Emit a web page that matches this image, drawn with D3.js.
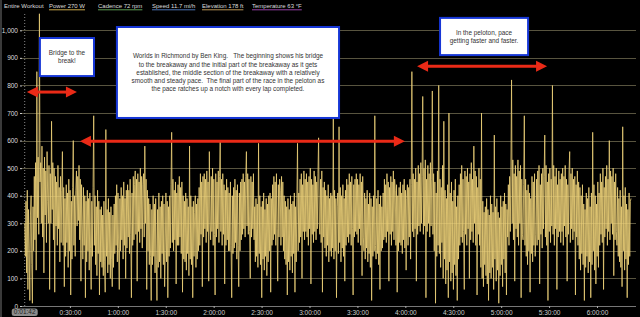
<!DOCTYPE html>
<html>
<head>
<meta charset="utf-8">
<script src="https://cdn.jsdelivr.net/npm/d3@7"></script>
<style>
  body { margin: 0; background: #000; }
  svg { display: block; font-family: "Liberation Sans", Arial, sans-serif; }
</style>
</head>
<body>
<div id="chart"></div>
<script>
// power trace, one reading every 24 s starting at 0:01:42
let startSec = 102
let stepSec = 24
let power = [
  300,180,380,120,420,60,350,210,20,330, 400,150,10,360,200,470,240,520,130,850,
  320,540,260,1060,450,520,300,580,250,500, 120,540,330,490,230,560,380,300,510,60,
  480,300,670,350,520,240,500,50,470,290, 450,220,510,280,430,160,470,230,420,560,
  220,430,70,390,180,440,230,410,140,460, 200,420,40,380,170,430,600,220,400,180,
  420,490,290,470,310,510,240,460,90,440, 300,170,430,220,400,30,380,160,420,200,
  390,130,410,210,60,380,180,430,690,220, 400,150,360,110,420,190,380,40,350,160,
  360,140,330,110,380,160,50,640,180,350, 120,390,150,340,100,360,170,70,330,140,
  370,190,400,220,440,160,410,210,60,390, 200,430,240,400,170,450,220,390,100,420,
  210,440,250,420,190,460,260,30,410,220, 470,240,440,490,260,460,90,480,270,450,
  230,500,280,470,210,440,480,250,580,300, 460,60,420,200,390,150,370,180,20,350,
  150,400,180,370,120,390,170,20,350,140, 410,160,360,100,380,190,400,150,370,70,
  200,410,160,380,30,360,180,400,210,440, 630,230,460,200,420,240,450,80,410,220,
  440,220,470,250,430,190,450,50,400,170, 380,160,410,130,390,190,360,110,580,170,
  400,150,360,30,380,180,340,400,140,370, 170,390,200,430,220,480,260,450,70,470,
  250,480,280,460,230,490,270,450,90,560, 300,240,470,270,500,220,460,260,40,480,
  250,450,280,490,230,470,600,270,460,220, 480,260,440,80,420,220,460,240,430,200,
  410,200,450,220,30,400,190,430,210,460, 230,420,170,440,220,70,410,200,450,240,
  460,260,480,280,450,250,470,560,290,480, 260,460,270,100,470,250,450,280,480,240,
  360,160,390,180,370,140,590,190,400,150, 360,30,380,170,410,130,350,180,390,110,
  370,160,400,200,410,50,390,220,440,240, 470,260,450,220,480,280,90,440,250,460,
  420,220,470,250,450,200,400,170,380,150, 360,40,390,160,350,130,400,180,370,120,
  380,190,410,50,360,160,390,590,200,410, 230,460,250,480,100,440,270,490,240,460,
  270,480,250,450,220,470,280,500,80,460, 260,440,230,490,270,470,240,450,280,480,
  610,300,260,460,230,490,50,430,250,450, 210,420,180,400,220,440,160,390,200,410,
  180,400,210,700,170,420,200,390,30,360, 410,190,650,230,430,160,400,210,440,180,
  390,90,420,220,460,250,440,230,480,260, 450,220,470,280,40,440,250,460,270,480,
  260,460,230,440,280,480,220,450,110,470, 250,200,410,170,390,210,420,160,370,190,
  410,140,390,20,360,180,400,200,690,220, 170,390,190,420,150,370,60,400,200,360,
  210,410,240,460,250,440,230,480,270,450, 90,430,260,470,220,450,270,490,240,460,
  420,220,440,50,400,200,430,230,450,220, 410,190,440,240,460,210,420,130,390,440,
  220,430,250,460,170,440,850,270,480,250, 460,280,500,90,450,260,510,290,480,270,
  520,300,470,760,260,500,290,530,30,460, 270,510,300,480,250,520,290,460,780,260,
  480,200,450,10,410,180,490,220,800,190, 460,140,430,230,510,100,670,170,420,80,
  390,130,440,30,700,160,410,90,450,120, 380,60,420,150,460,110,360,20,400,170,
  440,220,480,250,510,230,460,270,60,490, 260,470,220,500,280,450,100,480,240,520,
  270,460,230,580,300,490,220,470,40,430, 260,500,220,460,140,700,100,380,70,340,
  150,360,110,390,80,350,20,330,120,400, 100,370,140,340,60,620,170,360,90,390,
  130,340,10,320,110,400,150,360,70,380, 170,410,120,370,40,350,250,440,220,470,
  270,500,820,300,530,240,480,90,510,280, 470,250,530,220,490,300,510,30,460,260,
  240,440,690,220,460,180,420,150,440,200, 410,50,390,190,470,160,450,220,480,180,
  260,460,220,490,240,510,80,440,260,480, 210,500,280,470,620,250,510,220,450,20,
  480,270,500,230,460,290,800,260,510,220, 470,280,500,60,440,250,490,270,460,230,
  480,270,500,220,470,290,510,250,460,90, 440,260,490,560,230,480,280,500,240,460,
  270,470,40,440,250,490,220,450,170,430, 130,400,190,440,150,370,20,350,140,410,
  180,390,120,430,160,360,30,410,150,630, 200,440,130,400,80,370,180,450,140,410,
  220,480,260,450,230,500,60,430,250,470, 280,510,220,460,270,600,240,490,300,470,
  260,500,110,450,240,480,270,220,430,180, 390,160,420,140,360,70,650,200,400,130,
  430,170,370,30,350,150,410,180,380,390
]
let yTicks = [0,100,200,300,400,500,600,700,800,900,1000]
let xTicks = [1800,3600,5400,7200,9000,10800,12600,14400,16200,18000,19800,21600]

let headerItems = ['Power  270 W', 'Cadence  72 rpm', 'Speed  11.7 mi/h', 'Elevation  178 ft', 'Temperature  63 °F']
let headerColors = ['#c9a94e', '#5f9c55', '#4d74b3', '#b89558', '#9442a3']
let headerX = [49, 98, 152, 202, 252]

// annotations, in data units (seconds, watts)
let notes = [
  {t0: 673, t1: 2705, v0: 972, v1: 834, lines: ['Bridge to the', 'break!']},
  {t0: 3566, t1: 11910, v0: 1012, v1: 682, lines: [
    'Worlds in Richmond by Ben King.   The beginning shows his bridge',
    'to the breakaway and the initial part of the breakaway as it gets',
    'established, the middle section of the breakaway with a relatively',
    'smooth and steady pace.  The final part of the race in the peloton as',
    'the pace ratches up a notch with every lap completed.']},
  {t0: 15704, t1: 19011, v0: 1045, v1: 910, lines: ['In the peloton, pace', 'getting faster and faster.']}
]
let arrows = [
  {t0: 184, t1: 2063, v: 776},
  {t0: 2176, t1: 14383, v: 598},
  {t0: 14840, t1: 19725, v: 870}
]

let svgWidth = 640
let svgHeight = 317

let svg = d3.select('#chart').append('svg')
  .attr('width', svgWidth)
  .attr('height', svgHeight)

svg.append('rect').attr('width', svgWidth).attr('height', svgHeight).attr('fill', '#000')
svg.append('rect').attr('x', 0).attr('y', 0).attr('width', 2).attr('height', svgHeight).attr('fill', '#3a3a3a')

let x = d3.scaleLinear().domain([0, 21600]).range([22, 597])
let y = d3.scaleLinear().domain([0, 1000]).range([306, 30.3])

// header
svg.append('text').attr('x', 4).attr('y', 8).attr('font-size', 6).attr('fill', '#ddd').text('Entire Workout')
headerItems.forEach((s, i) => {
  let t = svg.append('text').attr('x', headerX[i]).attr('y', 8).attr('font-size', 6).attr('fill', '#ddd').text(s)
  let w = t.node().getComputedTextLength()
  svg.append('line')
    .attr('x1', headerX[i]).attr('x2', headerX[i] + w)
    .attr('y1', 9.8).attr('y2', 9.8)
    .attr('stroke', headerColors[i]).attr('stroke-width', 1)
})

// grid
svg.append('g').selectAll('line')
  .data(yTicks)
  .enter()
  .append('line')
  .attr('x1', 22).attr('x2', 636)
  .attr('y1', d => Math.round(y(d)) + 0.5).attr('y2', d => Math.round(y(d)) + 0.5)
  .attr('stroke', d => d == 0 ? '#777' : '#58543f')
  .attr('stroke-width', 1)

svg.append('line')
  .attr('x1', x(startSec)).attr('x2', x(startSec))
  .attr('y1', 14).attr('y2', 306)
  .attr('stroke', '#888').attr('stroke-dasharray', '1,2')

// y axis
let axis_y = d3.axisLeft(y).tickValues(yTicks).tickSize(2).tickFormat(d3.format(','))
let gy = svg.append('g').attr('transform', 'translate(22,0)').call(axis_y)
gy.select('.domain').remove()
gy.selectAll('text').attr('font-size', 6.5).attr('fill', '#ddd').attr('font-family', '"Liberation Sans", Arial, sans-serif').attr('dx', 1)
gy.selectAll('line').attr('stroke', '#ccc')

// x axis
let fmt = s => {
  let h = Math.floor(s / 3600), m = Math.floor(s % 3600 / 60), sec = s % 60
  return h + ':' + String(m).padStart(2, '0') + ':' + String(sec).padStart(2, '0')
}
let axis_x = d3.axisBottom(x).tickValues(xTicks).tickSize(2).tickFormat(fmt)
let gx = svg.append('g').attr('transform', 'translate(0,306)').call(axis_x)
gx.select('.domain').remove()
gx.selectAll('text').attr('font-size', 6.5).attr('fill', '#ccc').attr('font-family', '"Liberation Sans", Arial, sans-serif').attr('dy', '0.55em')
gx.selectAll('line').attr('stroke', '#aaa')

// power trace
svg.append('clipPath').attr('id', 'clip')
  .append('rect').attr('x', 22).attr('y', 13).attr('width', 618).attr('height', 294)

let line = d3.line()
  .x((d, i) => x(startSec + i * stepSec))
  .y(d => y(d))

svg.append('path')
  .datum(power)
  .attr('clip-path', 'url(#clip)')
  .attr('d', line)
  .attr('fill', 'none')
  .attr('stroke', '#efd27a')
  .attr('stroke-width', 0.9)
  .attr('stroke-opacity', 0.88)

// start label box
let sx = x(startSec)
svg.append('rect').attr('x', sx - 13).attr('y', 308.5).attr('width', 26).attr('height', 7.5).attr('rx', 2.5)
  .attr('fill', '#8c8c8c')
svg.append('text').attr('x', sx).attr('y', 314.3).attr('text-anchor', 'middle')
  .attr('font-size', 6.5).attr('fill', '#222').text(fmt(startSec))

// note boxes
notes.forEach(n => {
  let x0 = x(n.t0), x1 = x(n.t1), y0 = y(n.v0), y1 = y(n.v1)
  svg.append('rect')
    .attr('x', x0).attr('y', y0).attr('width', x1 - x0).attr('height', y1 - y0)
    .attr('fill', '#fff').attr('stroke', '#1636d6').attr('stroke-width', 2)
  let cy = (y0 + y1) / 2
  let lh = 8.2
  n.lines.forEach((s, i) => {
    svg.append('text')
      .attr('x', (x0 + x1) / 2)
      .attr('y', cy + (i - (n.lines.length - 1) / 2) * lh + 2.3)
      .attr('text-anchor', 'middle')
      .attr('font-size', 6.4).attr('fill', '#333')
      .style('white-space', 'pre')
      .text(s)
  })
})

// red double arrows
arrows.forEach(a => {
  let x0 = x(a.t0), x1 = x(a.t1), yy = y(a.v)
  let hl = 11, hw = 5.5
  svg.append('line')
    .attr('x1', x0 + hl - 1).attr('x2', x1 - hl + 1)
    .attr('y1', yy).attr('y2', yy)
    .attr('stroke', '#ea2a17').attr('stroke-width', 3)
  svg.append('path')
    .attr('d', `M${x0},${yy}L${x0 + hl},${yy - hw}L${x0 + hl},${yy + hw}Z`)
    .attr('fill', '#ea2a17')
  svg.append('path')
    .attr('d', `M${x1},${yy}L${x1 - hl},${yy - hw}L${x1 - hl},${yy + hw}Z`)
    .attr('fill', '#ea2a17')
})
</script>
</body>
</html>
